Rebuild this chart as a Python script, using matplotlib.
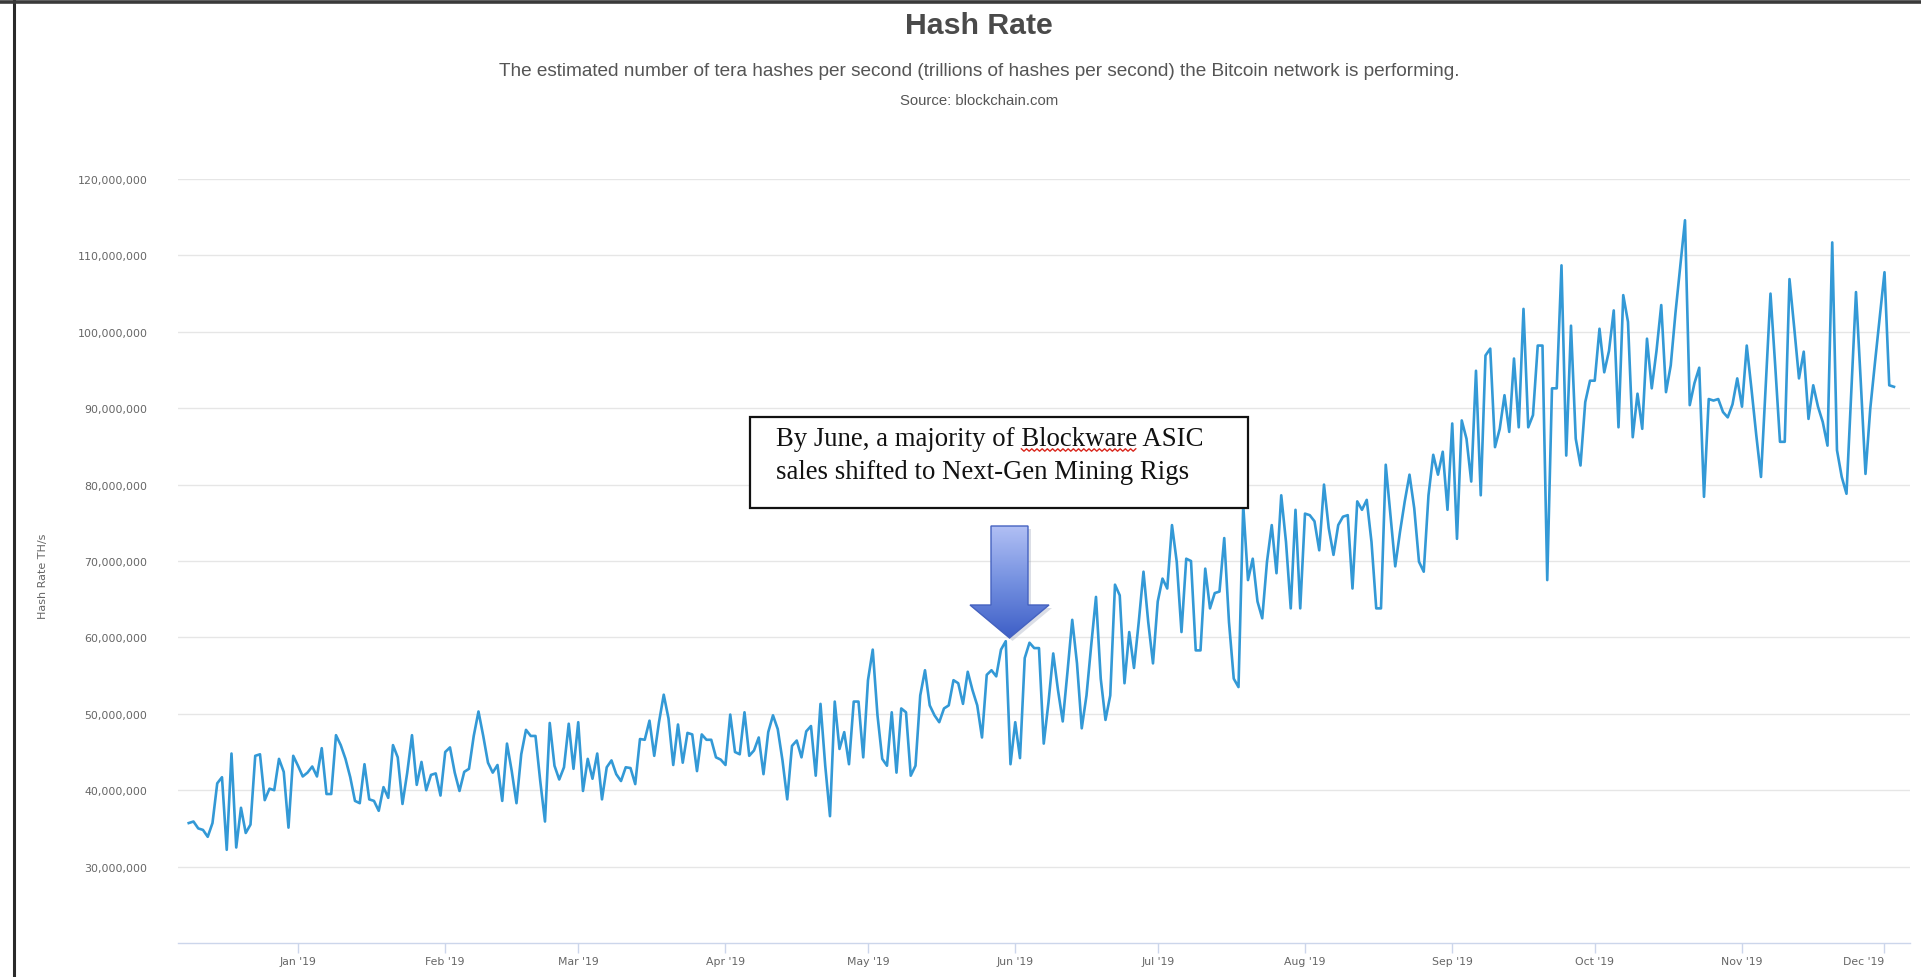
import numpy as np
import pandas as pd
import matplotlib
matplotlib.use("Agg")
import matplotlib.pyplot as plt
import matplotlib.dates as mdates
from matplotlib.patches import Polygon, Rectangle
from matplotlib.colors import LinearSegmentedColormap
from matplotlib.ticker import FuncFormatter

# ---------------- data (hash rate, millions of TH/s, one value per day) ----------------
start_date = "2018-12-09"
dec_2018 = [35.7, 35.9, 35.0, 34.8, 33.9, 35.7, 40.9, 41.7, 32.2, 44.8, 32.5, 37.7, 34.4,
            35.5, 44.5, 44.7, 38.7, 40.2, 40.0, 44.1, 42.4, 35.1, 44.5]
jan_2019 = [43.2, 41.8, 42.3, 43.1, 41.8, 45.5, 39.5, 39.5, 47.2, 45.9, 44.1, 41.7, 38.6,
            38.3, 43.4, 38.8, 38.6, 37.3, 40.4, 39.0, 45.9, 44.3, 38.2, 42.3, 47.2, 40.7,
            43.7, 40.0, 42.0, 42.2, 39.3]
feb_2019 = [45.0, 45.6, 42.3, 39.9, 42.4, 42.8, 47.1, 50.3, 47.1, 43.6, 42.3, 43.3, 38.6,
            46.1, 42.5, 38.3, 44.7, 47.9, 47.1, 47.1, 41.2, 35.9, 48.8, 43.2, 41.4, 43.0,
            48.7, 42.8]
mar_2019 = [48.9, 39.9, 44.1, 41.5, 44.8, 38.8, 43.0, 43.9, 42.1, 41.2, 43.0, 42.9, 40.8,
            46.7, 46.6, 49.1, 44.5, 48.9, 52.5, 49.4, 43.3, 48.6, 43.6, 47.5, 47.3, 42.5,
            47.3, 46.6, 46.6, 44.3, 44.0]
apr_2019 = [43.3, 49.9, 45.0, 44.7, 50.2, 44.5, 45.2, 46.9, 42.1, 47.6, 49.8, 48.0, 43.9,
            38.8, 45.8, 46.5, 44.3, 47.7, 48.4, 41.9, 51.3, 43.2, 36.6, 51.6, 45.4, 47.6,
            43.4, 51.6, 51.6, 44.3]
may_2019 = [54.4, 58.4, 49.8, 44.1, 43.2, 50.2, 42.3, 50.7, 50.2, 41.9, 43.2, 52.4, 55.7,
            51.1, 49.8, 48.9, 50.7, 51.1, 54.4, 54.0, 51.3, 55.5, 53.1, 51.1, 46.9, 55.1,
            55.7, 54.9, 58.4, 59.5, 43.4]
jun_2019 = [48.9, 44.2, 57.3, 59.3, 58.6, 58.6, 46.1, 51.5, 57.9, 53.1, 49.0, 55.5, 62.3,
            56.6, 48.1, 52.4, 59.0, 65.3, 54.6, 49.2, 52.4, 66.9, 65.5, 54.0, 60.7, 56.0,
            62.0, 68.6, 62.0, 56.6]
jul_2019 = [64.7, 67.7, 66.4, 74.7, 69.9, 60.7, 70.3, 70.0, 58.3, 58.3, 69.0, 63.8, 65.8,
            66.0, 73.0, 62.0, 54.6, 53.5, 77.3, 67.5, 70.3, 64.7, 62.5, 69.9, 74.7, 68.4,
            78.6, 72.5, 63.8, 76.7, 63.8]
aug_2019 = [76.2, 76.0, 75.2, 71.4, 80.0, 74.3, 70.8, 74.7, 75.8, 76.0, 66.4, 77.8, 76.7,
            78.0, 72.5, 63.8, 63.8, 82.6, 76.0, 69.3, 73.8, 77.8, 81.3, 76.9, 69.9, 68.6,
            78.6, 83.9, 81.3, 84.3, 76.7]
sep_2019 = [88.0, 72.9, 88.4, 86.0, 80.4, 94.9, 78.6, 96.9, 97.8, 84.9, 87.3, 91.7, 86.9,
            96.5, 87.5, 103.0, 87.5, 89.1, 98.2, 98.2, 67.5, 92.6, 92.6, 108.7, 83.8,
            100.8, 86.0, 82.5, 90.8, 93.6]
oct_2019 = [93.6, 100.4, 94.7, 97.5, 102.8, 87.5, 104.8, 101.3, 86.2, 91.9, 87.3, 99.1,
            92.6, 97.5, 103.5, 92.1, 95.6, 102.5, 108.5, 114.6, 90.4, 93.3, 95.3, 78.4,
            91.2, 91.0, 91.2, 89.5, 88.8, 90.5, 93.9]
nov_2019 = [90.2, 98.2, 92.5, 86.5, 81.0, 93.0, 105.0, 95.5, 85.6, 85.6, 106.9, 100.5,
            93.9, 97.4, 88.6, 93.0, 90.2, 88.2, 85.1, 111.7, 84.5, 81.0, 78.8, 92.0, 105.2,
            93.5, 81.4, 89.9, 96.0, 101.9]
dec_2019 = [107.8, 93.0, 92.8]

y_tick_values = [30e6, 40e6, 50e6, 60e6, 70e6, 80e6, 90e6, 100e6, 110e6, 120e6]
month_labels = ["Jan '19", "Feb '19", "Mar '19", "Apr '19", "May '19", "Jun '19",
                "Jul '19", "Aug '19", "Sep '19", "Oct '19", "Nov '19", "Dec '19"]

title_text = "Hash Rate"
subtitle_text = ("The estimated number of tera hashes per second (trillions of hashes per "
                 "second) the Bitcoin network is performing.")
source_text = "Source: blockchain.com"
y_label_text = "Hash Rate TH/s"
note_line1 = "By June, a majority of Blockware ASIC"
note_line2 = "sales shifted to Next-Gen Mining Rigs"
note_word = "Blockware"

# ---------------- assemble ----------------
values_m = (dec_2018 + jan_2019 + feb_2019 + mar_2019 + apr_2019 + may_2019 + jun_2019 +
            jul_2019 + aug_2019 + sep_2019 + oct_2019 + nov_2019 + dec_2019)
dates = pd.date_range(start_date, periods=len(values_m), freq="D")
hash_rate = np.array(values_m) * 1e6
month_ticks = pd.date_range("2019-01-01", periods=12, freq="MS")

W, H = 1921, 978
fig = plt.figure(figsize=(W / 100, H / 100), dpi=100)
fig.patch.set_facecolor("white")

# plot area in pixels: x 178..1910, y 180..944
ax = fig.add_axes([178 / W, 1 - 944 / H, (1910 - 178) / W, (944 - 180) / H])
ax.plot(dates, hash_rate, color="#3399d6", lw=1.9, solid_joinstyle="round", zorder=3)

jan1 = mdates.date2num(pd.Timestamp("2019-01-01"))
ax.set_xlim(jan1 - 25.26, jan1 + 339.37)
ax.set_ylim(20e6, 120e6)

ax.set_yticks(y_tick_values)
ax.yaxis.set_major_formatter(FuncFormatter(lambda v, p: "{:,.0f}".format(v)))
ax.set_xticks(month_ticks)
ax.set_xticklabels(month_labels)

ax.grid(axis="y", color="#e6e6e6", lw=1.0)
ax.set_axisbelow(True)
for s in ("top", "right", "left"):
    ax.spines[s].set_visible(False)
ax.spines["bottom"].set_color("#ccd6eb")
ax.spines["bottom"].set_linewidth(1.0)

ax.tick_params(axis="x", length=7, width=1, color="#ccd6eb", labelsize=7.8,
               labelcolor="#666666", pad=2.5)
ax.tick_params(axis="y", length=0, pad=22, labelsize=7.9, labelcolor="#666666")
for lab in ax.get_xticklabels() + ax.get_yticklabels():
    lab.set_fontfamily("DejaVu Sans")
# last month label is kept inside the plot area (shifted left like the original)
ax.get_xticklabels()[-1].set_horizontalalignment("right")

# ---------------- overlay in pixel coordinates ----------------
ov = fig.add_axes([0, 0, 1, 1], zorder=5)
ov.set_xlim(0, W)
ov.set_ylim(H, 0)
ov.axis("off")
ov.patch.set_alpha(0)

renderer = fig.canvas.get_renderer()


def fit_width(t, target):
    for _ in range(3):
        w = t.get_window_extent(renderer).width
        t.set_fontsize(t.get_fontsize() * target / w)


cx = 979
t_title = ov.text(cx, 26, title_text, ha="center", va="center", fontsize=20,
                  family="Liberation Sans", weight="bold", color="#4a4a4a")
fit_width(t_title, 148)
t_sub = ov.text(cx, 72, subtitle_text, ha="center", va="center", fontsize=12,
                family="Liberation Sans", color="#555555")
fit_width(t_sub, 960)
t_src = ov.text(cx, 101, source_text, ha="center", va="center", fontsize=10,
                family="Liberation Sans", color="#555555")
fit_width(t_src, 158)

ov.text(43, 576, y_label_text, rotation=90, ha="center", va="center", fontsize=8.0,
        family="DejaVu Sans", color="#666666")

# annotation box
ov.add_patch(Rectangle((750, 418), 498, 91, facecolor="white", edgecolor="#111111",
                       lw=1.6, zorder=6))
tx = 776
t1 = ov.text(tx, 446, note_line1, ha="left", va="baseline", fontsize=18,
             family="Liberation Serif", color="#111111", zorder=7)
t2 = ov.text(tx, 479, note_line2, ha="left", va="baseline", fontsize=18,
             family="Liberation Serif", color="#111111", zorder=7)
fit_width(t2, 412)
t1.set_fontsize(t2.get_fontsize())

# red spell-check squiggle under the product name
probe_full = ov.text(0, 0, note_line1.split(note_word)[0] + note_word, fontsize=t1.get_fontsize(),
                     family="Liberation Serif")
probe_word = ov.text(0, 0, note_word, fontsize=t1.get_fontsize(), family="Liberation Serif")
w_full = probe_full.get_window_extent(renderer).width
w_word = probe_word.get_window_extent(renderer).width
probe_full.remove()
probe_word.remove()
sx0, sx1 = tx + w_full - w_word, tx + w_full
zx = np.arange(sx0, sx1, 2.6)
zy = 451 + np.where(np.arange(len(zx)) % 2 == 0, -1.2, 1.2)
ov.plot(zx, zy, color="#d9261c", lw=1.0, zorder=8)

# block arrow with vertical gradient
arrow_pts = [(991, 527), (1028, 527), (1028, 606), (1049, 606), (1009.5, 639),
             (970, 606), (991, 606)]
shadow = Polygon([(x + 3, y + 3) for x, y in arrow_pts], closed=True, facecolor="#9aa3b8",
                 edgecolor="none", alpha=0.35, zorder=6)
ov.add_patch(shadow)
poly = Polygon(arrow_pts, closed=True, facecolor="none", edgecolor="#4562c0", lw=1.0,
               zorder=8)
ov.add_patch(poly)
cmap = LinearSegmentedColormap.from_list("arr", ["#b3c1f5", "#7490e0", "#3c5dc6"])
grad = np.linspace(0, 1, 256).reshape(-1, 1)
im = ov.imshow(grad, extent=[965, 1055, 641, 525], cmap=cmap, aspect="auto",
               zorder=7, interpolation="bilinear")
im.set_clip_path(poly)
ov.set_xlim(0, W)
ov.set_ylim(H, 0)

# frame lines of the screenshot
ov.plot([14, 14], [0, H], color="#2a2a2a", lw=2.2, solid_capstyle="butt", zorder=9)
ov.plot([0, W], [2.5, 2.5], color="#3a3a3a", lw=2.6, solid_capstyle="butt", zorder=9)

fig.savefig("out.png", dpi=100, facecolor="white")
